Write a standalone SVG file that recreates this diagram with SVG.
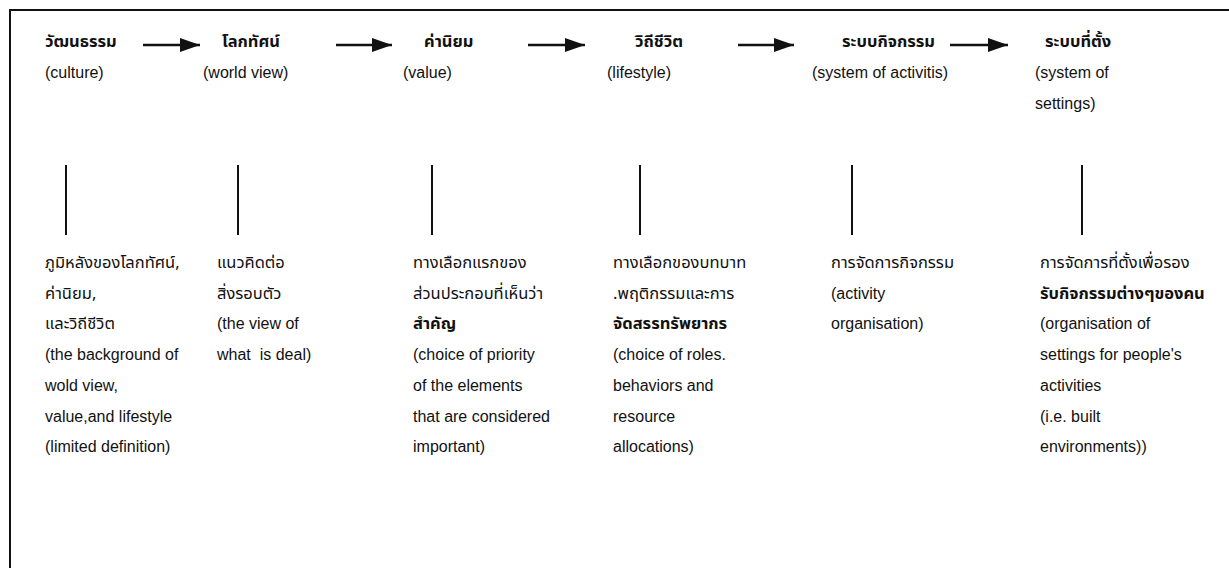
<svg xmlns="http://www.w3.org/2000/svg" width="1229" height="568" viewBox="0 0 1229 568">
<style>
.en{font-family:"Liberation Sans",Arial,sans-serif;font-size:16px;fill:#111}
.th{font-family:"Noto Sans Thai","Noto Sans","DejaVu Sans",sans-serif;font-size:16.5px;fill:#111}
.tb{font-weight:bold}
.conn{stroke:#111;stroke-width:2.5;fill:none}
.vl{stroke:#111;stroke-width:2}
</style>
<defs>
<marker id="ah" viewBox="0 0 20 14" refX="20" refY="7" markerWidth="20" markerHeight="14" markerUnits="userSpaceOnUse" orient="auto">
<path d="M0,0 L20,7 L0,14 z" fill="#111"/>
</marker>
</defs>
<rect x="0" y="0" width="1229" height="568" fill="#fff"/>
<path d="M10,568 L10,10 L1229,10" stroke="#111" stroke-width="2" fill="none"/>
<g id="connectors">
<line class="conn" x1="143" y1="45" x2="200" y2="45" marker-end="url(#ah)"/>
<line class="conn" x1="336" y1="45" x2="392" y2="45" marker-end="url(#ah)"/>
<line class="conn" x1="528" y1="45" x2="585" y2="45" marker-end="url(#ah)"/>
<line class="conn" x1="738" y1="45" x2="794" y2="45" marker-end="url(#ah)"/>
<line class="conn" x1="950" y1="45" x2="1008" y2="45" marker-end="url(#ah)"/>
<line class="vl" x1="66" y1="165" x2="66" y2="235"/>
<line class="vl" x1="238" y1="165" x2="238" y2="235"/>
<line class="vl" x1="432" y1="165" x2="432" y2="235"/>
<line class="vl" x1="640" y1="165" x2="640" y2="235"/>
<line class="vl" x1="852" y1="165" x2="852" y2="235"/>
<line class="vl" x1="1082" y1="165" x2="1082" y2="235"/>
</g>
<g id="culture">
<text class="th tb" x="45" y="47">วัฒนธรรม</text>
<text class="en" x="45" y="78">(culture)</text>
<text class="th" x="45" y="268">ภูมิหลังของโลกทัศน์,</text>
<text class="th" x="45" y="299">ค่านิยม,</text>
<text class="th" x="45" y="329">และวิถีชีวิต</text>
<text class="en" x="45" y="360">(the background of</text>
<text class="en" x="45" y="391">wold view,</text>
<text class="en" x="45" y="422">value,and lifestyle</text>
<text class="en" x="45" y="452">(limited definition)</text>
</g>
<g id="worldview">
<text class="th tb" x="222" y="47">โลกทัศน์</text>
<text class="en" x="203" y="78">(world view)</text>
<text class="th" x="217" y="268">แนวคิดต่อ</text>
<text class="th" x="217" y="299">สิ่งรอบตัว</text>
<text class="en" x="217" y="329">(the view of</text>
<text class="en" x="217" y="360" xml:space="preserve">what  is deal)</text>
</g>
<g id="value">
<text class="th tb" x="424" y="47">ค่านิยม</text>
<text class="en" x="403" y="78">(value)</text>
<text class="th" x="413" y="268">ทางเลือกแรกของ</text>
<text class="th" x="413" y="299">ส่วนประกอบที่เห็นว่า</text>
<text class="th tb" x="413" y="329">สำคัญ</text>
<text class="en" x="413" y="360">(choice of priority</text>
<text class="en" x="413" y="391">of the elements</text>
<text class="en" x="413" y="422">that are considered</text>
<text class="en" x="413" y="452">important)</text>
</g>
<g id="lifestyle">
<text class="th tb" x="635" y="47">วิถีชีวิต</text>
<text class="en" x="607" y="78">(lifestyle)</text>
<text class="th" x="613" y="268">ทางเลือกของบทบาท</text>
<text class="th" x="613" y="299">.พฤติกรรมและการ</text>
<text class="th tb" x="613" y="329">จัดสรรทรัพยากร</text>
<text class="en" x="613" y="360">(choice of roles.</text>
<text class="en" x="613" y="391">behaviors and</text>
<text class="en" x="613" y="422">resource</text>
<text class="en" x="613" y="452">allocations)</text>
</g>
<g id="activities">
<text class="th tb" x="842" y="47">ระบบกิจกรรม</text>
<text class="en" x="812" y="78">(system of activitis)</text>
<text class="th" x="831" y="268">การจัดการกิจกรรม</text>
<text class="en" x="831" y="299">(activity</text>
<text class="en" x="831" y="329">organisation)</text>
</g>
<g id="settings">
<text class="th tb" x="1045" y="47">ระบบที่ตั้ง</text>
<text class="en" x="1035" y="78">(system of</text>
<text class="en" x="1035" y="109">settings)</text>
<text class="th" x="1040" y="268">การจัดการที่ตั้งเพื่อรอง</text>
<text class="th tb" x="1040" y="299">รับกิจกรรมต่างๆของคน</text>
<text class="en" x="1040" y="329">(organisation of</text>
<text class="en" x="1040" y="360">settings for people's</text>
<text class="en" x="1040" y="391">activities</text>
<text class="en" x="1040" y="422">(i.e. built</text>
<text class="en" x="1040" y="452">environments))</text>
</g>
</svg>
